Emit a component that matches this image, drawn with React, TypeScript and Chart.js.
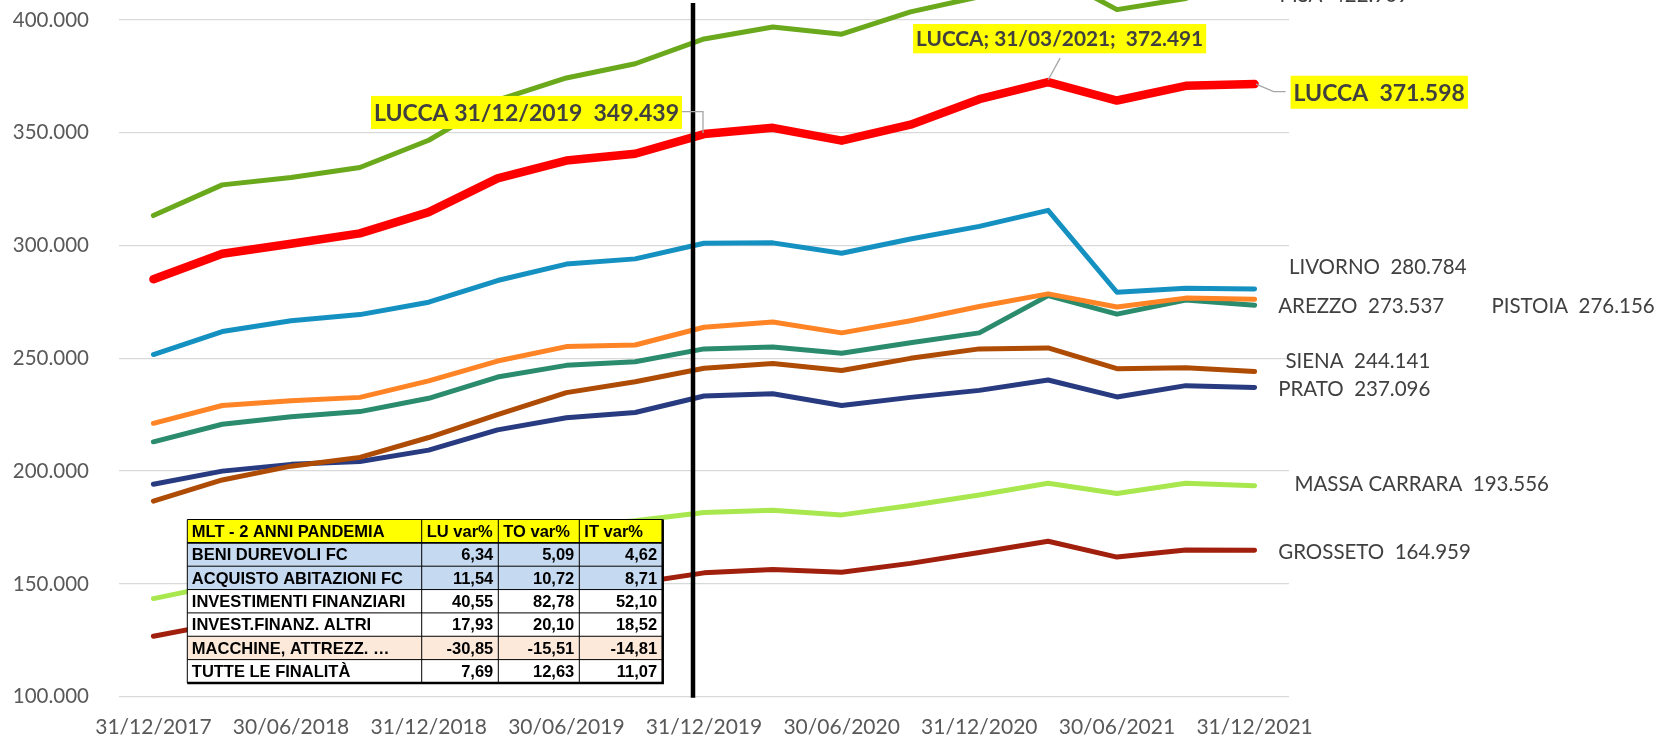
import React, { useEffect, useRef } from 'react';
import { Chart, registerables } from 'chart.js';

Chart.register(...registerables);

// ---------- DATA ----------
const categories = [
  '31/12/2017', '31/03/2018', '30/06/2018', '30/09/2018', '31/12/2018',
  '31/03/2019', '30/06/2019', '30/09/2019', '31/12/2019', '31/03/2020',
  '30/06/2020', '30/09/2020', '31/12/2020', '31/03/2021', '30/06/2021',
  '30/09/2021', '31/12/2021',
];

const lucca = [285100, 296400, 300800, 305400, 314800, 329800, 337700, 340700, 349439, 352200, 346500, 353600, 364900, 372491, 364300, 370800, 371598];
const pisa = [313300, 326900, 330200, 334600, 346700, 364500, 374300, 380600, 391600, 396900, 393700, 403600, 410300, 421000, 404600, 409500, 422909];
const livorno = [251700, 261900, 266700, 269400, 274900, 284500, 291800, 294100, 301000, 301200, 296600, 302900, 308500, 315600, 279300, 281100, 280784];
const pistoia = [221200, 229100, 231200, 232700, 240000, 248800, 255200, 255900, 263800, 266100, 261300, 266700, 273000, 278600, 272800, 276700, 276156];
const arezzo = [213000, 220800, 224100, 226400, 232300, 241700, 246900, 248500, 254200, 255000, 252300, 256900, 261300, 277800, 269600, 275900, 273537];
const siena = [186700, 196100, 202200, 206100, 214900, 225000, 234800, 239600, 245600, 247700, 244600, 250000, 254200, 254600, 245400, 245800, 244141];
const prato = [194200, 200000, 203000, 204300, 209300, 218300, 223700, 226000, 233300, 234300, 229100, 232700, 235800, 240400, 232900, 237900, 237096];
const massaCarrara = [143500, 149800, 154500, 157800, 163500, 170500, 175500, 178000, 181700, 182700, 180600, 184800, 189400, 194600, 190100, 194600, 193556];
const grosseto = [126800, 132600, 135200, 137400, 140800, 144900, 148300, 150300, 154900, 156400, 155200, 159100, 163900, 168900, 161900, 165000, 164959];

const seriesNames = ['LUCCA', 'PISA', 'LIVORNO', 'PISTOIA', 'AREZZO', 'SIENA', 'PRATO', 'MASSA CARRARA', 'GROSSETO'];
const seriesValues = [lucca, pisa, livorno, pistoia, arezzo, siena, prato, massaCarrara, grosseto];

const yTicks = [100000, 150000, 200000, 250000, 300000, 350000, 400000];

// highlighted Lucca points (category index)
const luccaHighlight = [8, 13];
const pandemicIndex = 8;

// table
const tableHeader = ['MLT - 2 ANNI PANDEMIA', 'LU var%', 'TO var%', 'IT var%'];
const tableRows = ['BENI DUREVOLI FC', 'ACQUISTO ABITAZIONI FC', 'INVESTIMENTI FINANZIARI', 'INVEST.FINANZ. ALTRI', 'MACCHINE, ATTREZZ. …', 'TUTTE LE FINALITÀ'];
const luVar = [6.34, 11.54, 40.55, 17.93, -30.85, 7.69];
const toVar = [5.09, 10.72, 82.78, 20.1, -15.51, 12.63];
const itVar = [4.62, 8.71, 52.1, 18.52, -14.81, 11.07];

// ---------- STYLE ----------
const seriesColors = ['#FF0000', '#6AA81C', '#1591C1', '#FF8425', '#2A8B6D', '#AE4B04', '#283A80', '#A8E84E', '#A11F0D'];
const seriesWidths = [8.5, 5, 5, 5, 5, 5, 5, 5, 5];
// end-label offsets from last point [dx to text left, dy to text centre]
const endLabelOffsets = [
  [39, 8.2],   // LUCCA (boxed)
  [25, 26.5],  // PISA
  [34.3, -22.3],
  [236.8, 6.1],
  [23.6, 0.2],
  [30.8, -11.1],
  [23.6, 0.8],
  [39.8, -1.7],
  [23.6, 1],
];
const rowColors = ['#C5D9F1', '#C5D9F1', '#FFFFFF', '#FFFFFF', '#FDE9D9', '#FFFFFF'];
const tableBox = { left: 187.3, top: 519.5, rowH: 23.35, cols: [234.4, 76.6, 81, 83.4] };

const fmtThousands = (v: number) => Math.round(v).toString().replace(/\B(?=(\d{3})+(?!\d))/g, '.');
const fmtPct = (v: number) => v.toFixed(2).replace('.', ',');

const LABEL_FONT = 20.5;
const BOLD_FONT = 23;
const BOLD_FONT_SMALL = 20.8;

function fontFor(size: number, bold: boolean) {
  return `${bold ? 'bold ' : ''}${size}px Lato`;
}

function drawText(
  ctx: CanvasRenderingContext2D, text: string, x: number, cy: number,
  size: number, bold: boolean, color: string, bg?: string, boxH = 33,
) {
  ctx.font = fontFor(size, bold);
  ctx.textAlign = 'left';
  ctx.textBaseline = 'alphabetic';
  const w = ctx.measureText(text).width;
  if (bg) {
    ctx.fillStyle = bg;
    ctx.fillRect(x - 3, cy - boxH / 2, w + 6, boxH);
  }
  ctx.fillStyle = color;
  ctx.fillText(text, x, cy + size * 0.72 / 2);
  return w;
}

function measure(ctx: CanvasRenderingContext2D, text: string, size: number, bold: boolean) {
  ctx.font = fontFor(size, bold);
  return ctx.measureText(text).width;
}

function drawTable(ctx: CanvasRenderingContext2D) {
  const { left, top, rowH, cols } = tableBox;
  const xs = [left];
  cols.forEach((c) => xs.push(xs[xs.length - 1] + c));
  const right = xs[xs.length - 1];
  const nRows = tableRows.length + 1;
  const bottom = top + rowH * nRows;
  const fs = 16.5;
  // backgrounds
  ctx.fillStyle = '#FFFF00';
  ctx.fillRect(left, top, right - left, rowH);
  tableRows.forEach((_, i) => {
    ctx.fillStyle = rowColors[i];
    ctx.fillRect(left, top + rowH * (i + 1), right - left, rowH);
  });
  // text
  ctx.font = `bold ${fs}px "Liberation Sans", Arial, sans-serif`;
  ctx.fillStyle = '#000000';
  ctx.textBaseline = 'alphabetic';
  const base = (r: number) => top + rowH * r + rowH / 2 + fs * 0.716 / 2;
  tableHeader.forEach((h, c) => {
    ctx.textAlign = 'left';
    ctx.fillText(h, xs[c] + (c === 0 ? 4.5 : 5), base(0));
  });
  const vals = [luVar, toVar, itVar];
  tableRows.forEach((name, r) => {
    ctx.textAlign = 'left';
    ctx.fillText(name, xs[0] + 4.5, base(r + 1));
    ctx.textAlign = 'right';
    vals.forEach((arr, c) => {
      ctx.fillText(fmtPct(arr[r]), xs[c + 2] - (c === 2 ? 5.5 : 5), base(r + 1));
    });
  });
  // grid
  ctx.strokeStyle = '#000000';
  for (let r = 0; r <= nRows; r++) {
    const y = top + rowH * r;
    ctx.beginPath();
    ctx.moveTo(left, y);
    ctx.lineTo(right, y);
    ctx.lineWidth = r === 1 ? 1.8 : 1;
    ctx.stroke();
  }
  ctx.lineWidth = 1;
  xs.forEach((x) => {
    ctx.beginPath();
    ctx.moveTo(x, top);
    ctx.lineTo(x, bottom);
    ctx.stroke();
  });
  ctx.lineWidth = 2.5;
  ctx.beginPath();
  ctx.moveTo(left, bottom);
  ctx.lineTo(right, bottom);
  ctx.lineTo(right, top);
  ctx.stroke();
}

const overlayPlugin = {
  id: 'overlay',
  afterDatasetsDraw(chart: any) {
    const ctx: CanvasRenderingContext2D = chart.ctx;
    const area = chart.chartArea;
    const xScale = chart.scales.x;
    ctx.save();

    // vertical marker line (start of pandemic)
    const vx = xScale.getPixelForValue(pandemicIndex) - 11;
    ctx.strokeStyle = '#000000';
    ctx.lineWidth = 4.5;
    ctx.beginPath();
    ctx.moveTo(vx, 3);
    ctx.lineTo(vx, area.bottom + 1);
    ctx.stroke();

    drawTable(ctx);

    const gray = '#404040';
    const leader = '#A6A6A6';
    // end labels
    seriesNames.forEach((name, i) => {
      const meta = chart.getDatasetMeta(i);
      const last = meta.data[meta.data.length - 1];
      const vals = seriesValues[i];
      const [dx, dy] = endLabelOffsets[i];
      const text = `${name}  ${fmtThousands(vals[vals.length - 1])}`;
      if (i === 0) {
        const tx = last.x + dx;
        const cy = last.y + dy;
        ctx.strokeStyle = leader;
        ctx.lineWidth = 1.3;
        ctx.beginPath();
        ctx.moveTo(last.x + 1.5, last.y);
        ctx.lineTo(last.x + 19, cy - 0.6);
        ctx.lineTo(tx - 8, cy - 0.6);
        ctx.stroke();
        drawText(ctx, text, tx, cy, BOLD_FONT, true, gray, '#FFFF00');
      } else {
        drawText(ctx, text, last.x + dx, last.y + dy, LABEL_FONT, false, gray);
      }
    });

    // highlighted Lucca labels
    const lmeta = chart.getDatasetMeta(0);
    {
      const idx = luccaHighlight[0];
      const p = lmeta.data[idx];
      const text = `LUCCA ${categories[idx]}  ${fmtThousands(lucca[idx])}`;
      const w = measure(ctx, text, BOLD_FONT, true);
      const boxRight = p.x - 22;
      const cy = p.y - 21.6;
      ctx.strokeStyle = leader;
      ctx.lineWidth = 1.3;
      ctx.beginPath();
      ctx.moveTo(boxRight, cy - 0.8);
      ctx.lineTo(p.x - 1, cy - 0.8);
      ctx.lineTo(p.x - 1, p.y - 1);
      ctx.stroke();
      drawText(ctx, text, boxRight - 3 - w, cy, BOLD_FONT, true, gray, '#FFFF00');
    }
    {
      const idx = luccaHighlight[1];
      const p = lmeta.data[idx];
      const text = `LUCCA; ${categories[idx]};  ${fmtThousands(lucca[idx])}`;
      const w = measure(ctx, text, BOLD_FONT_SMALL, true);
      const cx = p.x + 11.5;
      const cy = p.y - 43.4;
      ctx.strokeStyle = leader;
      ctx.lineWidth = 1.3;
      ctx.beginPath();
      ctx.moveTo(p.x + 12, cy + 19.5);
      ctx.lineTo(p.x, p.y - 2);
      ctx.stroke();
      drawText(ctx, text, cx - w / 2, cy, BOLD_FONT_SMALL, true, gray, '#FFFF00', 29.3);
    }
    ctx.restore();
  },
};

export default function App() {
  const ref = useRef<HTMLCanvasElement | null>(null);
  useEffect(() => {
    document.body.style.margin = '0';
    const canvas = ref.current;
    if (!canvas) return;
    const datasets = seriesNames.map((name, i) => ({
      label: name,
      data: seriesValues[i],
      borderColor: seriesColors[i],
      backgroundColor: seriesColors[i],
      borderWidth: seriesWidths[i],
      pointRadius: 0,
      pointHoverRadius: 0,
      tension: 0,
      fill: false,
      clip: false as any,
      borderCapStyle: 'round' as const,
      borderJoinStyle: 'round' as const,
      order: i,
    }));
    const chart = new Chart(canvas, {
      type: 'line',
      data: { labels: categories, datasets },
      options: {
        responsive: false,
        animation: false,
        devicePixelRatio: 1,
        layout: { autoPadding: false, padding: { top: 20, right: 372, left: 0, bottom: 0 } },
        plugins: { legend: { display: false }, tooltip: { enabled: false } },
        scales: {
          x: {
            offset: true,
            grid: { display: false, drawTicks: false },
            border: { display: false },
            ticks: {
              autoSkip: false,
              maxRotation: 0,
              minRotation: 0,
              padding: 18,
              color: '#595959',
              font: { family: 'Lato', size: 21 },
              callback: (_v: any, i: number) => (i % 2 === 0 ? categories[i] : ''),
            },
            afterFit: (s: any) => {
              s.height = 42.3;
              s.paddingLeft = 0;
              s.paddingRight = 0;
            },
          },
          y: {
            min: yTicks[0],
            max: yTicks[yTicks.length - 1],
            afterBuildTicks: (s: any) => { s.ticks = yTicks.map((v) => ({ value: v })); },
            ticks: {
              padding: 30,
              color: '#595959',
              font: { family: 'Lato', size: 20.5 },
              callback: (v: any) => fmtThousands(Number(v)),
            },
            grid: { color: '#D9D9D9', lineWidth: 1.3, drawTicks: false },
            border: { display: false },
            afterFit: (s: any) => {
              s.width = 119;
              s.paddingTop = 0;
              s.paddingBottom = 0;
            },
          },
        },
      },
      plugins: [overlayPlugin],
    });
    return () => chart.destroy();
  }, []);
  return (
    <div style={{ width: 1661, height: 739, background: '#FFFFFF' }}>
      <canvas ref={ref} width={1661} height={739} style={{ display: 'block' }} />
    </div>
  );
}
